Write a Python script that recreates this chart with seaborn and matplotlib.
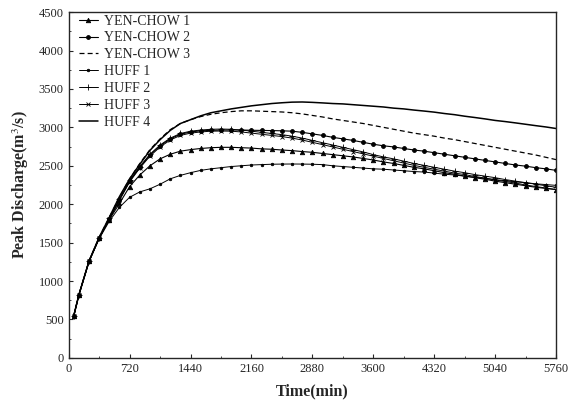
import numpy as np
import pandas as pd
import matplotlib
matplotlib.use("Agg")
import matplotlib.pyplot as plt
import seaborn as sns

time = [60, 120, 240, 360, 480, 600, 720, 840, 960, 1080, 1200, 1320, 1440, 1560, 1680,
        1800, 1920, 2040, 2160, 2280, 2400, 2520, 2640, 2760, 2880, 3000, 3120, 3240,
        3360, 3480, 3600, 3720, 3840, 3960, 4080, 4200, 4320, 4440, 4560, 4680, 4800,
        4920, 5040, 5160, 5280, 5400, 5520, 5640, 5760]

yen_chow_1 = [550, 820, 1260, 1560, 1800, 2010, 2230, 2380, 2500, 2590, 2650, 2690, 2710,
              2725, 2735, 2740, 2740, 2735, 2730, 2720, 2715, 2705, 2697, 2685, 2675, 2660,
              2645, 2630, 2615, 2595, 2575, 2550, 2530, 2505, 2480, 2460, 2435, 2410, 2390,
              2365, 2345, 2325, 2300, 2280, 2260, 2240, 2220, 2205, 2190]
yen_chow_2 = [550, 820, 1260, 1560, 1810, 2060, 2300, 2480, 2640, 2760, 2850, 2910, 2940,
              2955, 2960, 2965, 2965, 2965, 2962, 2960, 2958, 2955, 2950, 2935, 2915, 2895,
              2870, 2850, 2830, 2805, 2780, 2760, 2745, 2725, 2705, 2690, 2670, 2650, 2630,
              2610, 2590, 2570, 2550, 2530, 2510, 2495, 2475, 2460, 2440]
yen_chow_3 = [550, 820, 1260, 1570, 1830, 2090, 2330, 2530, 2710, 2850, 2970, 3050, 3100,
              3140, 3170, 3190, 3205, 3215, 3215, 3210, 3205, 3200, 3190, 3175, 3155, 3135,
              3110, 3090, 3070, 3050, 3025, 3000, 2975, 2950, 2925, 2905, 2885, 2860, 2840,
              2815, 2790, 2765, 2740, 2715, 2690, 2665, 2640, 2610, 2580]
huff_1 = [550, 820, 1250, 1550, 1780, 1960, 2090, 2160, 2200, 2260, 2330, 2375, 2410,
          2440, 2460, 2475, 2490, 2500, 2510, 2515, 2520, 2522, 2523, 2522, 2520, 2515,
          2500, 2490, 2480, 2470, 2460, 2455, 2445, 2435, 2425, 2418, 2405, 2390, 2380,
          2365, 2350, 2335, 2320, 2305, 2290, 2280, 2265, 2255, 2245]
huff_2 = [550, 820, 1260, 1560, 1815, 2070, 2310, 2490, 2650, 2770, 2860, 2920, 2950,
          2965, 2975, 2978, 2975, 2965, 2950, 2935, 2920, 2905, 2885, 2860, 2830, 2800,
          2770, 2740, 2710, 2680, 2645, 2615, 2590, 2560, 2530, 2505, 2480, 2455, 2430,
          2410, 2385, 2365, 2345, 2320, 2300, 2280, 2260, 2240, 2220]
huff_3 = [550, 820, 1260, 1560, 1805, 2050, 2290, 2470, 2625, 2745, 2835, 2895, 2925,
          2940, 2950, 2952, 2950, 2940, 2925, 2910, 2895, 2880, 2860, 2835, 2805, 2775,
          2745, 2715, 2685, 2655, 2625, 2595, 2565, 2535, 2505, 2480, 2455, 2430, 2405,
          2385, 2360, 2340, 2315, 2295, 2275, 2250, 2230, 2210, 2190]
huff_4 = [550, 820, 1260, 1570, 1830, 2100, 2330, 2520, 2700, 2840, 2960, 3050, 3100,
          3150, 3190, 3215, 3240, 3260, 3280, 3295, 3310, 3320, 3328, 3330, 3325, 3318,
          3310, 3305, 3295, 3285, 3275, 3265, 3250, 3240, 3225, 3212, 3198, 3180, 3165,
          3145, 3128, 3110, 3090, 3075, 3058, 3040, 3022, 3005, 2985]

series_names = ["YEN-CHOW 1", "YEN-CHOW 2", "YEN-CHOW 3", "HUFF 1", "HUFF 2", "HUFF 3", "HUFF 4"]
series_vals = [yen_chow_1, yen_chow_2, yen_chow_3, huff_1, huff_2, huff_3, huff_4]

x_ticks = [0, 720, 1440, 2160, 2880, 3600, 4320, 5040, 5760]
y_ticks = [0, 500, 1000, 1500, 2000, 2500, 3000, 3500, 4000, 4500]

styles = {
    "YEN-CHOW 1": dict(marker="^", linestyle="-", ms=3.2, lw=0.8),
    "YEN-CHOW 2": dict(marker="o", linestyle="-", ms=2.8, lw=0.8),
    "YEN-CHOW 3": dict(marker=None, linestyle=(0, (4, 2.5)), ms=0, lw=0.9),
    "HUFF 1": dict(marker="o", linestyle="-", ms=1.8, lw=0.7),
    "HUFF 2": dict(marker="+", linestyle="-", ms=4.5, lw=0.7),
    "HUFF 3": dict(marker="x", linestyle="-", ms=3.5, lw=0.7),
    "HUFF 4": dict(marker=None, linestyle="-", ms=0, lw=1.1),
}

sns.set_style("ticks")
plt.rcParams["font.family"] = ["Liberation Serif", "DejaVu Serif"]
plt.rcParams["mathtext.fontset"] = "stix"

df = pd.concat([pd.DataFrame({"Time": time, "Q": v, "Series": n})
                for n, v in zip(series_names, series_vals)], ignore_index=True)

fig = plt.figure(figsize=(5.68, 4.03), dpi=100)
ax = fig.add_axes([0.121, 0.112, 0.858, 0.858])

for name in series_names:
    st = styles[name]
    sub = df[df["Series"] == name]
    sns.lineplot(data=sub, x="Time", y="Q", ax=ax, color="black",
                 marker=st["marker"], markersize=st["ms"], linewidth=st["lw"],
                 linestyle=st["linestyle"], markeredgecolor="black",
                 markeredgewidth=0.6, label=name)

ax.set_xlim(0, 5760)
ax.set_ylim(0, 4500)
ax.set_xticks(x_ticks)
ax.set_yticks(y_ticks)
ax.set_xticks(np.arange(0, 5761, 360), minor=True)
ax.set_yticks(np.arange(0, 4501, 250), minor=True)
ax.tick_params(which="major", direction="in", length=3, width=0.8, labelsize=9)
ax.tick_params(which="minor", direction="in", length=1.5, width=0.6)
for s in ax.spines.values():
    s.set_linewidth(1.0)
    s.set_visible(True)

ax.set_xlabel("Time(min)", fontsize=11.5, fontweight="bold", labelpad=6)
ax.set_ylabel("Peak Discharge(m$^3$/s)", fontsize=11.5, fontweight="bold", labelpad=6)

leg = ax.legend(loc="upper left", bbox_to_anchor=(0.012, 1.005), frameon=False,
                fontsize=10, handlelength=1.4, borderaxespad=0.1, labelspacing=0.28,
                handletextpad=0.4, borderpad=0.2)

fig.savefig("out.png", dpi=100)
